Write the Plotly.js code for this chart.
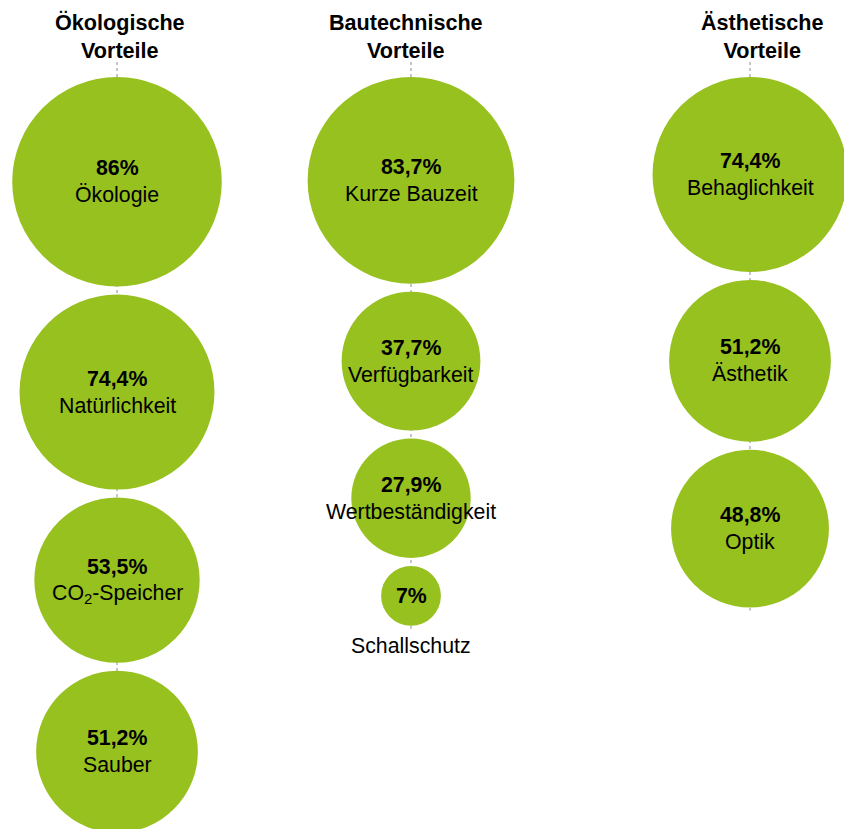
<!DOCTYPE html>
<html>
<head>
<meta charset="utf-8">
<script src="https://cdn.plot.ly/plotly-3.0.1.min.js"></script>
<style>html,body{margin:0;padding:0;background:#fff;}#chart{width:844px;height:829px;}</style>
</head>
<body>
<div id="chart"></div>
<script>
// ---- data ----
var groupTitles = ["Ökologische<br>Vorteile", "Bautechnische<br>Vorteile", "Ästhetische<br>Vorteile"];
var ecoLabels = ["Ökologie", "Natürlichkeit", "CO<sub>2</sub>-Speicher", "Sauber"];
var ecoValues = [86, 74.4, 53.5, 51.2];
var techLabels = ["Kurze Bauzeit", "Verfügbarkeit", "Wertbeständigkeit", "Schallschutz"];
var techValues = [83.7, 37.7, 27.9, 7];
var aesLabels = ["Behaglichkeit", "Ästhetik", "Optik"];
var aesValues = [74.4, 51.2, 48.8];

// ---- layout constants ----
var W = 844, H = 829;
var colX = [117, 411, 750];
var titleShift = [3, -5, 12];
var topY = 77, gap = 8;
var k = 22.6;                 // px diameter per sqrt(percent)
var sizeref = 2 / (k * k);    // plotly area mode: diameter = sqrt(2*v/sizeref)
var green = "#97C11F";
var font = "Liberation Sans, Arial, Helvetica, sans-serif";
var fs = 21.3, tfs = 21.6;

var groups = [
  {labels: ecoLabels, values: ecoValues},
  {labels: techLabels, values: techValues},
  {labels: aesLabels, values: aesValues}
];

function fmt(v) { return String(v).replace('.', ',') + '%'; }

var lines = [], circles = [], annotations = [];

function addText(x, y, text) {
  annotations.push({x: x, y: y, xref: 'x', yref: 'y', text: text, showarrow: false,
    font: {family: font, size: fs, color: '#000'}, xanchor: 'center', yanchor: 'middle'});
}

groups.forEach(function(g, gi) {
  var x = colX[gi];
  var ys = [], xs = [], y = topY, lastBottom = topY;
  g.values.forEach(function(v, i) {
    var d = Math.sqrt(2 * v / sizeref);
    var c = y + d / 2;
    ys.push(c); xs.push(x);
    lastBottom = y + d;
    if (d < 80) {
      addText(x, c, '<b>' + fmt(v) + '</b>');
      addText(x, y + d + 20, g.labels[i]);
    } else {
      addText(x, c - 13.5, '<b>' + fmt(v) + '</b>');
      addText(x, c + 13.5, g.labels[i]);
    }
    y = y + d + gap;
  });
  lines.push({
    x: [x, x], y: [62, lastBottom + 3],
    mode: 'lines', line: {color: '#8a8a8a', width: 1, dash: 'dot'},
    hoverinfo: 'skip', showlegend: false
  });
  circles.push({
    x: xs, y: ys, mode: 'markers',
    marker: {size: g.values, sizemode: 'area', sizeref: sizeref, color: green, opacity: 1, line: {width: 0}},
    hoverinfo: 'skip', showlegend: false
  });
  annotations.push({x: x, y: 36.5, xref: 'x', yref: 'y', xshift: titleShift[gi], text: '<b>' + groupTitles[gi] + '</b>',
    showarrow: false, font: {family: font, size: tfs, color: '#000'}, xanchor: 'center', yanchor: 'middle', align: 'center'});
});

var layout = {
  width: W, height: H,
  margin: {l: 0, r: 0, t: 0, b: 0, pad: 0},
  paper_bgcolor: '#fff', plot_bgcolor: '#fff',
  xaxis: {range: [0, W], visible: false, fixedrange: true},
  yaxis: {range: [H, 0], visible: false, fixedrange: true},
  annotations: annotations,
  showlegend: false
};

Plotly.newPlot('chart', lines.concat(circles), layout, {displayModeBar: false, staticPlot: true});
</script>
</body>
</html>
